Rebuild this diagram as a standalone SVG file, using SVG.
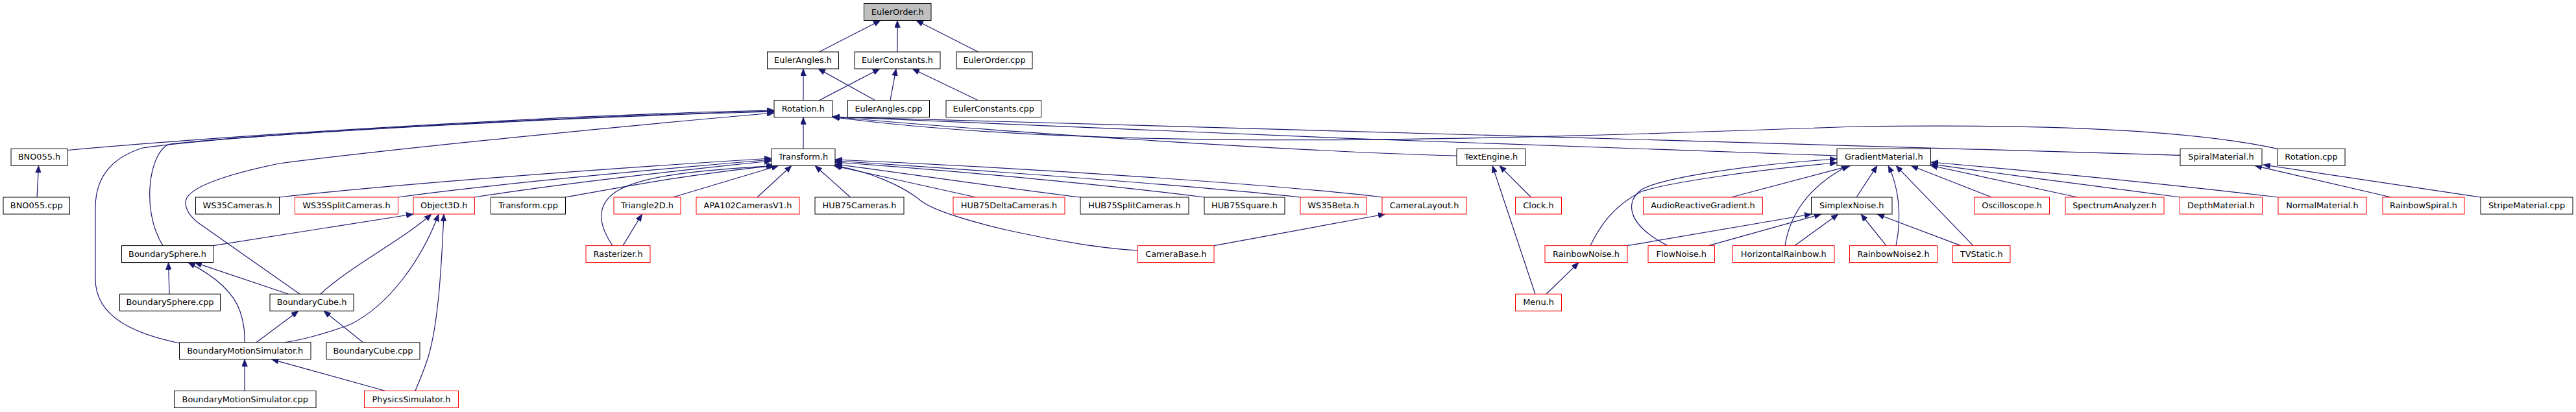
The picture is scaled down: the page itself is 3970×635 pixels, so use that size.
<svg xmlns="http://www.w3.org/2000/svg" width="3970" height="635" viewBox="0 0 3970 635">
<style>
.n rect{fill:#fff;stroke:#000;stroke-width:1}
.n.r rect{stroke:#ff0000}
.n.g rect{fill:#bfbfbf}
.n text{font-family:"DejaVu Sans","Liberation Sans",sans-serif;font-size:12.9px;text-anchor:middle;fill:#000}
#edges path{fill:none;stroke:#191970;stroke-width:1.2;marker-start:url(#a)}
</style>
<defs>
<marker id="a" markerUnits="userSpaceOnUse" viewBox="0 0 11 9" markerWidth="11" markerHeight="9" refX="11" refY="4.5" orient="auto-start-reverse">
<path d="M0,0 L11,4.5 L0,9 z" fill="#191970" stroke="#191970" stroke-width="0.5"/>
</marker>
</defs>
<rect width="3970" height="635" fill="#fff"/>
<g id="edges">
<path d="M1357,31.5 L1262.5,80"/>
<path d="M1383,31.5 L1383,80"/>
<path d="M1412,31.5 L1507.5,80"/>
<path d="M1238,106 L1238,154.7"/>
<path d="M1261,106 L1349,154.7"/>
<path d="M1356,106 L1262.5,154.7"/>
<path d="M1381,106 L1372,154.7"/>
<path d="M1406,106 L1507.5,154.7"/>
<path d="M1238,180.7 L1238,229.3"/>
<path d="M1193,170 C900,176 400,205 104,231.5"/>
<path d="M1193,171 C900,178 420,205 262,222 C232,230 215,320 251,378.6"/>
<path d="M1193,172 C900,180 380,205 220,228 C165,245 147,280 147,320 L147,430 C147,490 210,515 276.5,529"/>
<path d="M1193,174 C950,195 600,230 430,252 C320,275 286,295 286,312 C286,325 295,335 305,343 L462,453.2"/>
<path d="M1283,180 C1500,200 2000,234 2245,240"/>
<path d="M1283,180 C1700,198 2400,228 2831,240"/>
<path d="M1283,180 C1700,192 2800,222 3360,239.3"/>
<path d="M1283,180.5 C1700,235 2300,215 2860,195 C3200,190 3400,205 3510,229.3"/>
<path d="M1189,244 C900,262 600,285 430.5,304"/>
<path d="M1189,246 C1000,262 750,285 613,304"/>
<path d="M1189,248 C1050,262 850,285 731.5,304"/>
<path d="M1192,255.3 C1050,270 950,290 871,304"/>
<path d="M1195,255.3 C1080,262 990,270 950,295 C915,318 925,350 944,378.6"/>
<path d="M1200,255.3 L1037,304"/>
<path d="M1220,255.3 L1167,304"/>
<path d="M1256,255.3 L1310.5,304"/>
<path d="M1285,255.3 C1350,270 1450,292 1504,304"/>
<path d="M1287,253 C1400,268 1550,290 1665,304"/>
<path d="M1287,250 C1500,265 1750,290 1856,304"/>
<path d="M1287,248 C1600,268 1900,292 2004,304"/>
<path d="M1287,246 C1650,262 2000,288 2130,304"/>
<path d="M1287,255 C1340,265 1390,285 1420,310 C1460,340 1650,380 1753.5,386"/>
<path d="M637,330 L328.5,378.6"/>
<path d="M665,330 C620,370 540,410 494,453.2"/>
<path d="M676,330 C650,400 600,470 540,500 C500,515 460,525 438,527.8"/>
<path d="M684,330 C680,420 675,500 660,550 C652,575 645,590 640,602.5"/>
<path d="M259.5,404.6 L261,453.2"/>
<path d="M300,404.6 L444.5,453.2"/>
<path d="M290,404.6 C330,425 360,450 370,480 C377,500 377,515 377,527.8"/>
<path d="M460,479.2 L395,527.8"/>
<path d="M499,479.2 L559.5,527.8"/>
<path d="M377,553.8 L377,602.5"/>
<path d="M418.5,553.8 L594,602.5"/>
<path d="M59.5,255.3 L57,304"/>
<path d="M989.5,330 L960,378.6"/>
<path d="M2135,330 L1871,378.6"/>
<path d="M2311,255.3 L2359.5,304"/>
<path d="M2300,255.3 L2366,453.2"/>
<path d="M2433,404.6 L2383,453.2"/>
<path d="M2852,255.3 L2668,304"/>
<path d="M2893,255.3 L2861,304"/>
<path d="M2849,255.3 C2800,280 2760,320 2751,378.6"/>
<path d="M2910,255.3 C2925,285 2932,330 2922,378.6"/>
<path d="M2922,255.3 L3041,378.6"/>
<path d="M2945,255.3 L3069.5,304"/>
<path d="M2975,255 L3201.5,304"/>
<path d="M2976,253 C3100,270 3250,290 3360,304"/>
<path d="M2976,250 C3150,265 3350,285 3511,304"/>
<path d="M2831,245 C2680,255 2560,275 2530,292 C2505,310 2505,345 2570,378.6"/>
<path d="M2831,251 C2700,262 2570,282 2530,295 C2485,318 2465,350 2451,378.6"/>
<path d="M2792,330 L2508,378.6"/>
<path d="M2807,330 L2633,378.6"/>
<path d="M2833,330 L2766,378.6"/>
<path d="M2868,330 L2907,378.6"/>
<path d="M2893,330 L3022,378.6"/>
<path d="M3475,255.3 L3685,304"/>
<path d="M3488,254 L3823,304"/>
</g>
<g id="EulerOrder_h" class="n g"><rect x="1331.5" y="5.5" width="103.5" height="26"/><text x="1383.25" y="22.5">EulerOrder.h</text></g>
<g id="EulerAngles_h" class="n"><rect x="1182.5" y="80" width="110" height="26"/><text x="1237.5" y="97">EulerAngles.h</text></g>
<g id="EulerConstants_h" class="n"><rect x="1317" y="80" width="132" height="26"/><text x="1383" y="97">EulerConstants.h</text></g>
<g id="EulerOrder_cpp" class="n"><rect x="1474" y="80" width="117" height="26"/><text x="1532.5" y="97">EulerOrder.cpp</text></g>
<g id="Rotation_h" class="n"><rect x="1193" y="154.7" width="89.5" height="26"/><text x="1237.75" y="171.7">Rotation.h</text></g>
<g id="EulerAngles_cpp" class="n"><rect x="1306.5" y="154.7" width="126" height="26"/><text x="1369.5" y="171.7">EulerAngles.cpp</text></g>
<g id="EulerConstants_cpp" class="n"><rect x="1458" y="154.7" width="146.5" height="26"/><text x="1531.25" y="171.7">EulerConstants.cpp</text></g>
<g id="BNO055_h" class="n"><rect x="17" y="229.3" width="87" height="26"/><text x="60.5" y="246.3">BNO055.h</text></g>
<g id="Transform_h" class="n"><rect x="1189" y="229.3" width="98" height="26"/><text x="1238" y="246.3">Transform.h</text></g>
<g id="TextEngine_h" class="n"><rect x="2245" y="229.3" width="106" height="26"/><text x="2298" y="246.3">TextEngine.h</text></g>
<g id="GradientMaterial_h" class="n"><rect x="2831" y="229.3" width="144.5" height="26"/><text x="2903.25" y="246.3">GradientMaterial.h</text></g>
<g id="SpiralMaterial_h" class="n"><rect x="3360" y="229.3" width="126" height="26"/><text x="3423" y="246.3">SpiralMaterial.h</text></g>
<g id="Rotation_cpp" class="n"><rect x="3510" y="229.3" width="104" height="26"/><text x="3562" y="246.3">Rotation.cpp</text></g>
<g id="BNO055_cpp" class="n"><rect x="5" y="304" width="102.5" height="26"/><text x="56.25" y="321">BNO055.cpp</text></g>
<g id="WS35Cameras_h" class="n"><rect x="301.5" y="304" width="129" height="26"/><text x="366" y="321">WS35Cameras.h</text></g>
<g id="WS35SplitCameras_h" class="n r"><rect x="454.5" y="304" width="159" height="26"/><text x="534" y="321">WS35SplitCameras.h</text></g>
<g id="Object3D_h" class="n r"><rect x="637" y="304" width="94.5" height="26"/><text x="684.25" y="321">Object3D.h</text></g>
<g id="Transform_cpp" class="n"><rect x="756.5" y="304" width="115" height="26"/><text x="814" y="321">Transform.cpp</text></g>
<g id="Triangle2D_h" class="n r"><rect x="946" y="304" width="103" height="26"/><text x="997.5" y="321">Triangle2D.h</text></g>
<g id="APA102CamerasV1_h" class="n r"><rect x="1073" y="304" width="159" height="26"/><text x="1152.5" y="321">APA102CamerasV1.h</text></g>
<g id="HUB75Cameras_h" class="n"><rect x="1256" y="304" width="137" height="26"/><text x="1324.5" y="321">HUB75Cameras.h</text></g>
<g id="HUB75DeltaCameras_h" class="n r"><rect x="1469" y="304" width="172" height="26"/><text x="1555" y="321">HUB75DeltaCameras.h</text></g>
<g id="HUB75SplitCameras_h" class="n"><rect x="1665" y="304" width="167" height="26"/><text x="1748.5" y="321">HUB75SplitCameras.h</text></g>
<g id="HUB75Square_h" class="n"><rect x="1856" y="304" width="124" height="26"/><text x="1918" y="321">HUB75Square.h</text></g>
<g id="WS35Beta_h" class="n r"><rect x="2004" y="304" width="102" height="26"/><text x="2055" y="321">WS35Beta.h</text></g>
<g id="CameraLayout_h" class="n r"><rect x="2130" y="304" width="130" height="26"/><text x="2195" y="321">CameraLayout.h</text></g>
<g id="Clock_h" class="n r"><rect x="2335.5" y="304" width="71" height="26"/><text x="2371" y="321">Clock.h</text></g>
<g id="AudioReactiveGradient_h" class="n r"><rect x="2532.5" y="304" width="184" height="26"/><text x="2624.5" y="321">AudioReactiveGradient.h</text></g>
<g id="SimplexNoise_h" class="n"><rect x="2791.5" y="304" width="124.5" height="26"/><text x="2853.75" y="321">SimplexNoise.h</text></g>
<g id="Oscilloscope_h" class="n r"><rect x="3042.5" y="304" width="116" height="26"/><text x="3100.5" y="321">Oscilloscope.h</text></g>
<g id="SpectrumAnalyzer_h" class="n r"><rect x="3183" y="304" width="152" height="26"/><text x="3259" y="321">SpectrumAnalyzer.h</text></g>
<g id="DepthMaterial_h" class="n r"><rect x="3359.5" y="304" width="127" height="26"/><text x="3423" y="321">DepthMaterial.h</text></g>
<g id="NormalMaterial_h" class="n r"><rect x="3511" y="304" width="136" height="26"/><text x="3579" y="321">NormalMaterial.h</text></g>
<g id="RainbowSpiral_h" class="n r"><rect x="3672" y="304" width="126" height="26"/><text x="3735" y="321">RainbowSpiral.h</text></g>
<g id="StripeMaterial_cpp" class="n"><rect x="3823" y="304" width="142" height="26"/><text x="3894" y="321">StripeMaterial.cpp</text></g>
<g id="BoundarySphere_h" class="n"><rect x="187.5" y="378.6" width="141" height="26"/><text x="258" y="395.6">BoundarySphere.h</text></g>
<g id="Rasterizer_h" class="n r"><rect x="903" y="378.6" width="99" height="26"/><text x="952.5" y="395.6">Rasterizer.h</text></g>
<g id="CameraBase_h" class="n r"><rect x="1753.5" y="378.6" width="117.5" height="26"/><text x="1812.25" y="395.6">CameraBase.h</text></g>
<g id="RainbowNoise_h" class="n r"><rect x="2381" y="378.6" width="127" height="26"/><text x="2444.5" y="395.6">RainbowNoise.h</text></g>
<g id="FlowNoise_h" class="n r"><rect x="2540" y="378.6" width="102.5" height="26"/><text x="2591.25" y="395.6">FlowNoise.h</text></g>
<g id="HorizontalRainbow_h" class="n r"><rect x="2670.5" y="378.6" width="156.5" height="26"/><text x="2748.75" y="395.6">HorizontalRainbow.h</text></g>
<g id="RainbowNoise2_h" class="n r"><rect x="2850.5" y="378.6" width="135" height="26"/><text x="2918" y="395.6">RainbowNoise2.h</text></g>
<g id="TVStatic_h" class="n r"><rect x="3009.5" y="378.6" width="88.5" height="26"/><text x="3053.75" y="395.6">TVStatic.h</text></g>
<g id="BoundarySphere_cpp" class="n"><rect x="184.5" y="453.2" width="155" height="26"/><text x="262" y="470.2">BoundarySphere.cpp</text></g>
<g id="BoundaryCube_h" class="n"><rect x="416" y="453.2" width="129" height="26"/><text x="480.5" y="470.2">BoundaryCube.h</text></g>
<g id="Menu_h" class="n r"><rect x="2335.5" y="453.2" width="71" height="26"/><text x="2371" y="470.2">Menu.h</text></g>
<g id="BoundaryMotionSimulator_h" class="n"><rect x="276.5" y="527.8" width="202.5" height="26"/><text x="377.75" y="544.8">BoundaryMotionSimulator.h</text></g>
<g id="BoundaryCube_cpp" class="n"><rect x="503" y="527.8" width="144" height="26"/><text x="575" y="544.8">BoundaryCube.cpp</text></g>
<g id="BoundaryMotionSimulator_cpp" class="n"><rect x="268.5" y="602.5" width="218.5" height="26"/><text x="377.75" y="619.5">BoundaryMotionSimulator.cpp</text></g>
<g id="PhysicsSimulator_h" class="n r"><rect x="561.5" y="602.5" width="145" height="26"/><text x="634" y="619.5">PhysicsSimulator.h</text></g>
</svg>
